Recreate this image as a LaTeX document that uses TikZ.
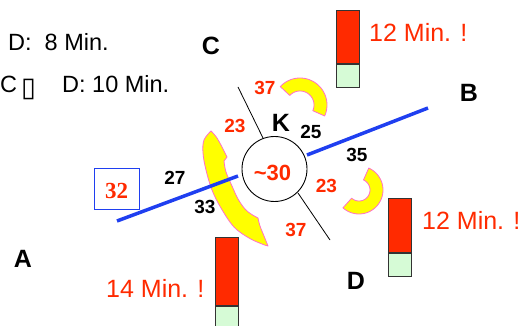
\documentclass[tikz,border=0pt]{standalone}
\usepackage{fontspec}
\setmainfont{Liberation Sans}
\newfontfamily\seriffont{Liberation Serif}
\newfontfamily\dejavu{DejaVu Sans}
\definecolor{myred}{HTML}{FF2A00}
\definecolor{mygreen}{HTML}{D6FBD6}
\definecolor{myblue}{HTML}{1F3FF0}
\definecolor{mypink}{HTML}{FF70C8}
\definecolor{myyellow}{HTML}{FFFF00}
\tikzset{
  txt/.style={inner sep=0pt, anchor=base},
  plain/.style={txt, font=\fontsize{23.5}{27}\selectfont},
  redmsg/.style={txt, anchor=base west, text=myred, font=\fontsize{25}{30}\selectfont},
  letter/.style={txt, font=\fontsize{25}{30}\selectfont\bfseries},
  rednum/.style={txt, text=myred, font=\fontsize{19}{23}\selectfont\bfseries},
  blknum/.style={txt, font=\fontsize{19}{23}\selectfont\bfseries},
  road/.style={draw=myblue, line width=3.5pt},
  thin/.style={draw=black, line width=0.8pt},
  yarc/.style={fill=myyellow, draw=mypink, line width=0.8pt, line join=round},
  redbar/.style={draw=black!80, fill=myred, line width=0.8pt, inner sep=0pt, minimum width=23pt},
  greenbar/.style={draw=black!80, fill=mygreen, line width=0.8pt, inner sep=0pt, minimum width=23pt},
}
\begin{document}
\begin{tikzpicture}[x=1pt,y=-1pt]
\useasboundingbox (0,0) rectangle (523,326);

% top-left text
\node[plain, anchor=base west] (t1) at (8,51) {D:\hspace{13pt}8 Min.};
\node[plain, anchor=base west] (t2a) at (0,93) {C};
\node[txt, anchor=base west, font=\dejavu\fontsize{27}{30}\selectfont] (t2b) at (21,97) {▯};
\node[plain, anchor=base west] (t2c) at (62,93) {D: 10 Min.};

% yellow arcs
\filldraw[yarc] plot[smooth, tension=0.6] coordinates {(211,131) (204,140) (203,153) (206,170) (212,190) (221,208) (234,227) (249,238) (262,244) (268,246)}
  -- plot[smooth, tension=0.6] coordinates {(268,246) (264,236) (260,226) (258,218)}
  -- plot[smooth, tension=0.6] coordinates {(258,218) (251,214) (245,209) (238,199) (232,186) (226,172) (224,161)}
  -- (227,157)
  -- plot[smooth, tension=0.6] coordinates {(227,157) (222,147) (217,138) (212,132)} -- cycle;
\filldraw[yarc] plot[domain=-137:24, samples=40] ({300+27*cos(\x)},{105+27*sin(\x)})
  -- plot[domain=24:-137, samples=40] ({300+14*cos(\x)},{105+14*sin(\x)}) -- cycle;
\filldraw[yarc] plot[domain=-66:132, samples=40] ({359+24*cos(\x)},{190+24*sin(\x)})
  -- plot[domain=132:-66, samples=40] ({359+11*cos(\x)},{190+11*sin(\x)}) -- cycle;

% roads
\coordinate (a1) at (117,221);
\coordinate (a2) at (238,176);
\coordinate (b1) at (307,155);
\coordinate (b2) at (428,108);
\draw[road] (a1) -- (a2);
\draw[road] (b1) -- (b2);

% central circle
\node[draw, circle, minimum size=65pt, inner sep=0pt, line width=0.9pt] (K) at (274.5,169) {};
\coordinate (c1) at (238,87);
\coordinate (c2) at (263,138);
\coordinate (d1) at (298,193);
\coordinate (d2) at (330,240);
\draw[thin] (c1) -- (c2);
\draw[thin] (d1) -- (d2);

% labels
\node[letter] (lC) at (211,55) {C};
\node[letter] (lB) at (469,102) {B};
\node[letter] (lA) at (23,268) {A};
\node[letter] (lD) at (356,290) {D};
\node[letter] (lK) at (281,132) {K};
\node[txt, text=myred, font=\fontsize{22}{26}\selectfont\bfseries] (v30) at (272.5,181) {\textasciitilde30};

\node[rednum] (n37a) at (265,95) {37};
\node[rednum] (n23a) at (235,133) {23};
\node[blknum] (n25) at (311,139) {25};
\node[rednum] (n23b) at (326.5,193) {23};
\node[rednum] (n37b) at (296,237) {37};
\node[blknum] (n33) at (205,214) {33};
\node[blknum] (n27) at (175,185) {27};
\node[blknum] (n35) at (357,162) {35};

\node[draw=myblue, line width=0.8pt, minimum width=45pt, minimum height=41pt, inner sep=0pt] (box32) at (117,188.5) {};
\node[txt, text=myred, font=\seriffont\fontsize{23}{27}\selectfont\bfseries] (n32) at (116.5,199) {32};

% bars
\node[redbar, minimum height=53pt, anchor=north west] (r1) at (336,10) {};
\node[greenbar, minimum height=23pt, anchor=north] (g1) at (r1.south) {};
\node[redbar, minimum height=54pt, anchor=north west] (r2) at (388,198) {};
\node[greenbar, minimum height=23pt, anchor=north] (g2) at (r2.south) {};
\node[redbar, minimum height=68pt, anchor=north west] (r3) at (215,237) {};
\node[greenbar, minimum height=30pt, anchor=north] (g3) at (r3.south) {};

\node[redmsg] (m1) at (369,42) {12 Min. !};
\node[redmsg] (m2) at (422,230) {12 Min. !};
\node[redmsg] (m3) at (106,298) {14 Min. !};
\end{tikzpicture}
\end{document}
